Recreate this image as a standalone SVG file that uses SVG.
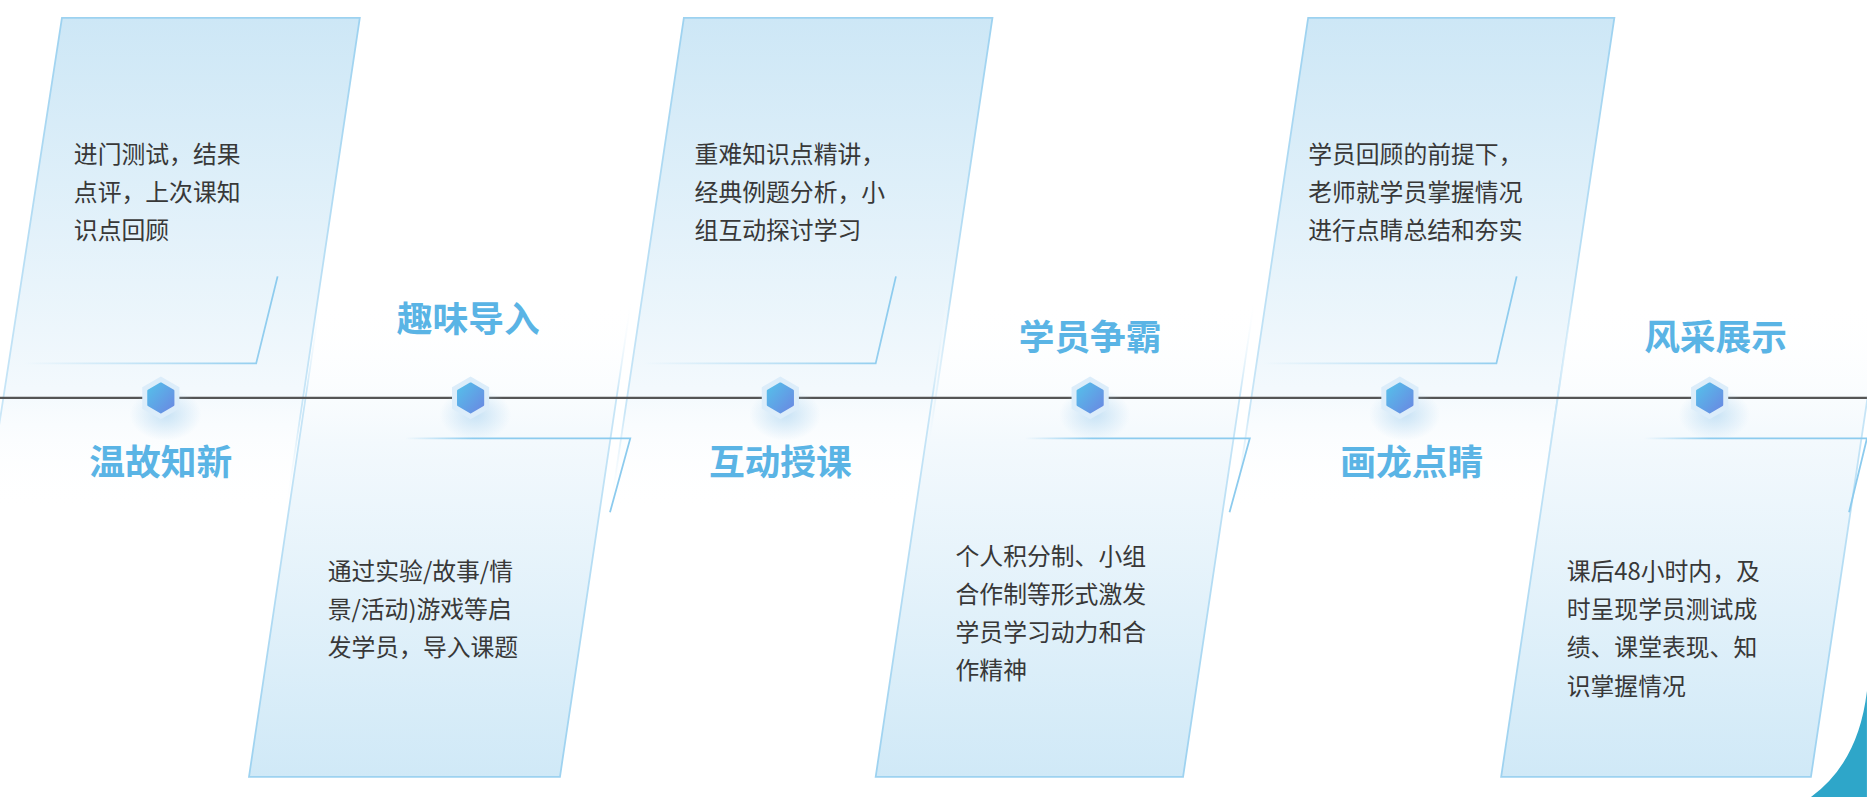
<svg xmlns="http://www.w3.org/2000/svg" width="1867" height="797" viewBox="0 0 1867 797">
<defs>
<linearGradient id="gTop" x1="0" y1="0" x2="0" y2="1"><stop offset="0" stop-color="#cde7f6"/><stop offset="0.75" stop-color="#f3f9fd"/><stop offset="1" stop-color="#ffffff" stop-opacity="0"/></linearGradient>
<linearGradient id="gBot" x1="0" y1="0" x2="0" y2="1"><stop offset="0" stop-color="#ffffff" stop-opacity="0"/><stop offset="0.3" stop-color="#f3f9fd"/><stop offset="1" stop-color="#d0e9f7"/></linearGradient>
<linearGradient id="sTop" x1="0" y1="0" x2="0" y2="1"><stop offset="0" stop-color="#9dd2f0"/><stop offset="0.8" stop-color="#c9e6f7"/><stop offset="1" stop-color="#ffffff" stop-opacity="0"/></linearGradient>
<linearGradient id="sBot" x1="0" y1="0" x2="0" y2="1"><stop offset="0" stop-color="#ffffff" stop-opacity="0"/><stop offset="0.2" stop-color="#c9e6f7"/><stop offset="1" stop-color="#9dd2f0"/></linearGradient>
<linearGradient id="brH" x1="0" y1="0" x2="1" y2="0"><stop offset="0" stop-color="#8ccbee" stop-opacity="0"/><stop offset="1" stop-color="#8ccbee"/></linearGradient>
<linearGradient id="brH2" x1="0" y1="0" x2="1" y2="0"><stop offset="0" stop-color="#8ccbee" stop-opacity="0"/><stop offset="0.3" stop-color="#8ccbee"/><stop offset="1" stop-color="#8ccbee"/></linearGradient>
<linearGradient id="hexG" x1="0" y1="0" x2="1" y2="1"><stop offset="0" stop-color="#55c0ea"/><stop offset="1" stop-color="#6a88e2"/></linearGradient>
<radialGradient id="glow"><stop offset="0" stop-color="#a9d3f0" stop-opacity="0.6"/><stop offset="1" stop-color="#a9d3f0" stop-opacity="0"/></radialGradient>
<g id="hex">
<ellipse cx="4" cy="14" rx="30" ry="22" fill="url(#glow)"/>
<polygon points="0,-18 15.6,-9 15.6,9 0,18 -15.6,9 -15.6,-9" fill="#dcedfa"/>
<polygon points="0,-12 10.4,-6 10.4,6 0,12 -10.4,6 -10.4,-6" fill="url(#hexG)" stroke="url(#hexG)" stroke-width="2" stroke-linejoin="round"/>
</g>
</defs>
<style>
.title{font-family:"Noto Sans CJK SC",sans-serif;font-weight:700;font-size:30px;fill:#5ab4e5;text-anchor:middle}
.body{font-family:"Noto Sans CJK SC",sans-serif;font-size:20px;fill:#383838}
.ct{fill:url(#gTop);stroke:url(#sTop);stroke-width:1.5}
.cb{fill:url(#gBot);stroke:url(#sBot);stroke-width:1.5}
.br{fill:none;stroke:url(#brH);stroke-width:1.5}
.br2{fill:none;stroke:url(#brH2);stroke-width:1.5}
</style>
<rect width="1867" height="797" fill="#ffffff"/>
<g transform="scale(1.1914)">
<path d="M1567,580 Q1560,640 1520,669 L1567,669 Z" fill="#2ea6c9"/>
<g id="card1"><polygon class="ct" points="52,15 302,15 240,430 -12,430"/><path class="br" d="M20,305 L215,305 L233,232"/>
<text class="body" x="62" y="137">进门测试，结果</text><text class="body" x="62" y="169">点评，上次课知</text><text class="body" x="62" y="201">识点回顾</text></g>
<g id="card3"><polygon class="ct" points="574,15 833,15 771,430 512,430"/><path class="br" d="M540,305 L735,305 L752,232"/>
<text class="body" x="583" y="137">重难知识点精讲，</text><text class="body" x="583" y="169">经典例题分析，小</text><text class="body" x="583" y="201">组互动探讨学习</text></g>
<g id="card5"><polygon class="ct" points="1098,15 1355,15 1293,430 1036,430"/><path class="br" d="M1060,305 L1256,305 L1273,232"/>
<text class="body" x="1098" y="137">学员回顾的前提下，</text><text class="body" x="1098" y="169">老师就学员掌握情况</text><text class="body" x="1098" y="201">进行点睛总结和夯实</text></g>
<g id="card2"><polygon class="cb" points="269,250 530,250 470,652 209,652"/><path class="br2" d="M340,368 L529,368 L512,430"/>
<text class="body" x="275" y="487">通过实验/故事/情</text><text class="body" x="275" y="519">景/活动)游戏等启</text><text class="body" x="275" y="551">发学员，导入课题</text></g>
<g id="card4"><polygon class="cb" points="795,250 1053,250 993,652 735,652"/><path class="br2" d="M860,368 L1049,368 L1032,430"/>
<text class="body" x="802" y="474">个人积分制、小组</text><text class="body" x="802" y="506">合作制等形式激发</text><text class="body" x="802" y="538">学员学习动力和合</text><text class="body" x="802" y="570">作精神</text></g>
<g id="card6"><polygon class="cb" points="1320,250 1580,250 1520,652 1260,652"/><path class="br2" d="M1380,368 L1567,368 L1552,430"/>
<text class="body" x="1315" y="487">课后48小时内，及</text><text class="body" x="1315" y="519">时呈现学员测试成</text><text class="body" x="1315" y="551">绩、课堂表现、知</text><text class="body" x="1315" y="583">识掌握情况</text></g>
<g id="connectors"><line x1="0" y1="334" x2="1567" y2="334" stroke="#555" stroke-width="2"/></g>
<g id="n1"><use href="#hex" x="135" y="334"/><text class="title" x="135" y="399">温故知新</text></g>
<g id="n2"><use href="#hex" x="395" y="334"/><text class="title" x="393" y="279">趣味导入</text></g>
<g id="n3"><use href="#hex" x="655" y="334"/><text class="title" x="655" y="399">互动授课</text></g>
<g id="n4"><use href="#hex" x="915" y="334"/><text class="title" x="915" y="294">学员争霸</text></g>
<g id="n5"><use href="#hex" x="1175" y="334"/><text class="title" x="1185" y="399">画龙点睛</text></g>
<g id="n6"><use href="#hex" x="1435" y="334"/><text class="title" x="1440" y="294">风采展示</text></g>
</g>
</svg>
